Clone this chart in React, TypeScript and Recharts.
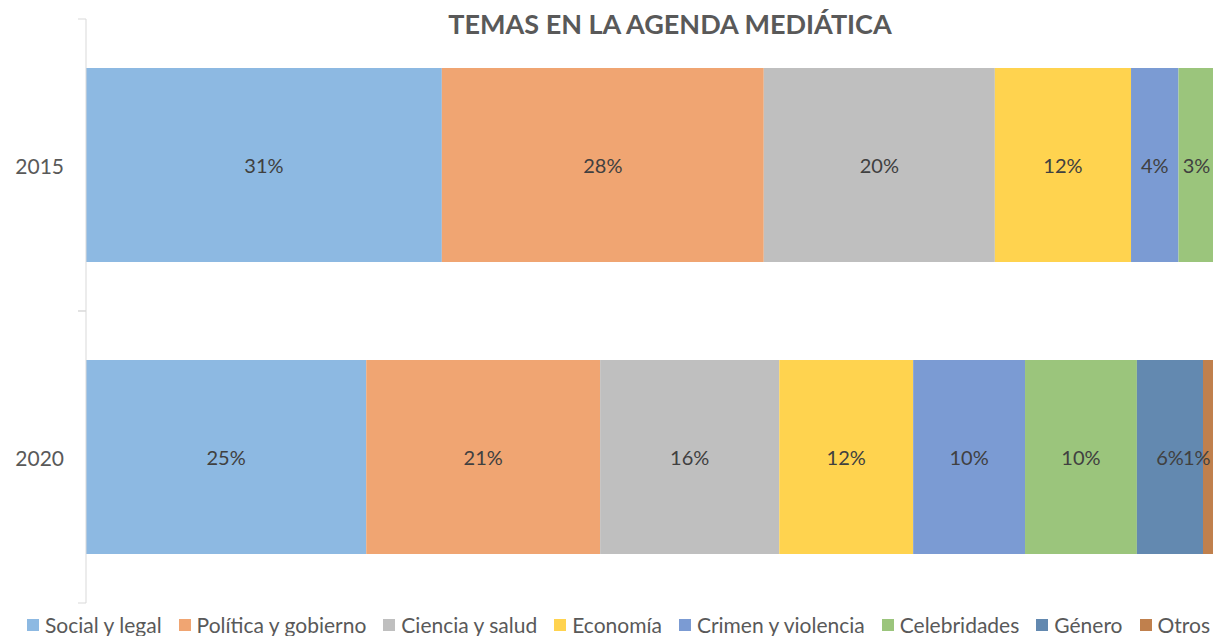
import { BarChart, Bar, XAxis, YAxis, LabelList } from 'recharts';

// Years shown on the vertical axis
const years = ['2015', '2020'];

// Topic names (legend order = stack order)
const topics = [
  'Social y legal',
  'Política y gobierno',
  'Ciencia y salud',
  'Economía',
  'Crimen y violencia',
  'Celebridades',
  'Género',
  'Otros',
];

const topicColors = ['#8DB9E2', '#F0A572', '#BFBFBF', '#FFD34F', '#7B9BD3', '#9BC57C', '#6389B0', '#C0804D'];

// Share of coverage per topic, [2015, 2020]
const socialLegal = [31.49, 24.8];
const politica = [28.49, 20.7];
const ciencia = [20.45, 15.85];
const economia = [12.05, 11.85];
const crimen = [4.2, 9.9];
const celebridades = [3.2, 9.9];
const genero = [0.1, 5.85];
const otros = [0.02, 1.15];

const seriesValues = [socialLegal, politica, ciencia, economia, crimen, celebridades, genero, otros];

const keys = topics.map((_, i) => `t${i}`);

const chartData = years.map((year, yi) => {
  const row: Record<string, any> = { year };
  seriesValues.forEach((vals, si) => {
    row[keys[si]] = vals[yi];
  });
  return row;
});

const FONT = 'Lato, "Open Sans", sans-serif';
const RIGHT_LIMIT = 1211;

// Data labels, nudged back inside the chart when they would run off the right edge
const renderLabel = (props: any) => {
  const { x, y, width, height, value } = props;
  if (value == null || value < 0.5) return null;
  const text = `${Math.round(value)}%`;
  const textWidth = (text.length - 1) * 11.6 + 17;
  let cx = Number(x) + Number(width) / 2;
  if (cx + textWidth / 2 > RIGHT_LIMIT) cx = RIGHT_LIMIT - textWidth / 2;
  return (
    <text
      x={cx}
      y={Number(y) + Number(height) / 2}
      textAnchor="middle"
      dominantBaseline="central"
      fill="#404040"
      style={{ fontSize: 20, fontFamily: FONT }}
    >
      {text}
    </text>
  );
};

// Year label plus the small tick marks at the band edges
const YearTick = (props: any) => {
  const { x, y, payload } = props;
  const half = 146;
  return (
    <g>
      <line x1={86} x2={78} y1={y - half} y2={y - half} stroke="#D9D9D9" />
      <line x1={86} x2={78} y1={y + half} y2={y + half} stroke="#D9D9D9" />
      <text
        x={x - 14}
        y={y}
        textAnchor="end"
        dominantBaseline="central"
        fill="#595959"
        style={{ fontSize: 21, fontFamily: FONT }}
      >
        {payload.value}
      </text>
    </g>
  );
};

const App = () => {
  return (
    <div
      style={{
        position: 'fixed',
        left: 0,
        top: 0,
        width: 1213,
        height: 636,
        overflow: 'hidden',
        background: '#fff',
        fontFamily: FONT,
      }}
    >
      <div
        style={{
          position: 'absolute',
          left: 0,
          top: 7,
          width: 1340,
          textAlign: 'center',
          fontSize: 27,
          lineHeight: '34px',
          fontWeight: 700,
          color: '#595959',
        }}
      >
        TEMAS EN LA AGENDA MEDIÁTICA
      </div>

      <div style={{ position: 'absolute', left: 0, top: 0 }}>
        <BarChart
          width={1230}
          height={636}
          data={chartData}
          layout="vertical"
          margin={{ top: 19, right: 14, bottom: 33, left: 0 }}
          barSize={194}
        >
          <XAxis type="number" domain={[0, 100]} allowDataOverflow hide />
          <YAxis
            type="category"
            dataKey="year"
            width={86}
            axisLine={{ stroke: '#D9D9D9' }}
            tickLine={false}
            tick={<YearTick />}
          />
          {topics.map((name, i) => (
            <Bar
              key={keys[i]}
              dataKey={keys[i]}
              name={name}
              stackId="a"
              fill={topicColors[i]}
              isAnimationActive={false}
            >
              <LabelList dataKey={keys[i]} content={renderLabel} />
            </Bar>
          ))}
        </BarChart>
      </div>

      {/* Legend */}
      <div
        style={{
          position: 'absolute',
          left: 27,
          top: 614,
          display: 'flex',
          alignItems: 'center',
          gap: 17,
          fontSize: 21,
          lineHeight: '22px',
          color: '#595959',
          whiteSpace: 'nowrap',
        }}
      >
        {topics.map((name, i) => (
          <div key={name} style={{ display: 'flex', alignItems: 'center' }}>
            <span
              style={{
                display: 'inline-block',
                width: 12,
                height: 12,
                marginRight: 6,
                background: topicColors[i],
              }}
            />
            <span>{name}</span>
          </div>
        ))}
      </div>
    </div>
  );
};

export default App;
